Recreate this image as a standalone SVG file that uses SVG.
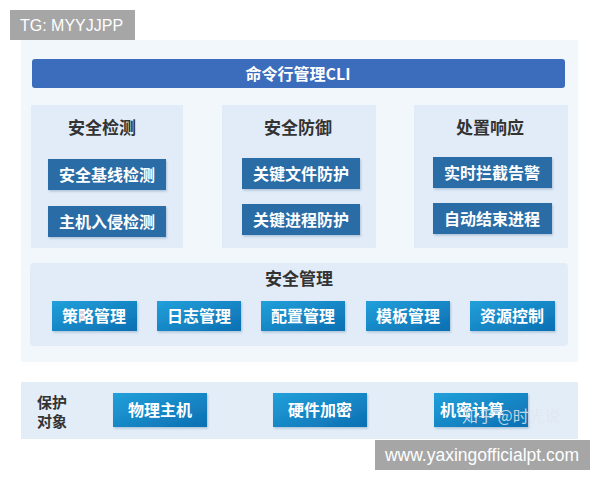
<svg xmlns="http://www.w3.org/2000/svg" width="600" height="480" viewBox="0 0 600 480">
<defs>
<linearGradient id="btn" x1="0" y1="0" x2="1" y2="1">
<stop offset="0" stop-color="#22a0da"/>
<stop offset="1" stop-color="#0c6fb2"/>
</linearGradient>
<filter id="sh" x="-10%" y="-20%" width="130%" height="150%">
<feDropShadow dx="1" dy="1.5" stdDeviation="1.2" flood-color="#6d8fb3" flood-opacity="0.45"/>
</filter>
</defs>
<style>
text{font-family:"Noto Sans CJK SC","Liberation Sans",sans-serif;}
text.lat{font-family:"Liberation Sans",Arial,sans-serif;}
.panel{fill:#e2ecf8;}
.dark{fill:#2c6ca6;filter:url(#sh);}
.btn{fill:url(#btn);filter:url(#sh);}
.wt{fill:#ffffff;font-weight:bold;font-size:16px;text-anchor:middle;}
.ttl{fill:#333333;font-weight:bold;font-size:17px;text-anchor:middle;}
</style>
<rect width="600" height="480" fill="#ffffff"/>
<rect x="21" y="40" width="557" height="322" fill="#f2f7fc"/>
<g id="cli">
<rect x="32" y="59" width="533" height="29" rx="3" fill="#3c6dbd"/>
<text x="298" y="80" class="wt" font-size="17">命令行管理CLI</text>
</g>
<g id="detect">
<rect x="31" y="105" width="152" height="143" class="panel"/>
<text x="102" y="134" class="ttl">安全检测</text>
<rect x="48" y="159" width="118" height="31" class="dark"/>
<text x="107" y="181" class="wt">安全基线检测</text>
<rect x="48" y="206" width="118" height="31" class="dark"/>
<text x="107" y="228" class="wt">主机入侵检测</text>
</g>
<g id="defense">
<rect x="222" y="105" width="154" height="143" class="panel"/>
<text x="298" y="134" class="ttl">安全防御</text>
<rect x="242" y="158" width="118" height="31" class="dark"/>
<text x="301" y="180" class="wt">关键文件防护</text>
<rect x="242" y="204" width="118" height="31" class="dark"/>
<text x="301" y="226" class="wt">关键进程防护</text>
</g>
<g id="response">
<rect x="414" y="105" width="154" height="143" class="panel"/>
<text x="490" y="134" class="ttl">处置响应</text>
<rect x="433" y="157" width="119" height="31" class="dark"/>
<text x="492" y="179" class="wt">实时拦截告警</text>
<rect x="433" y="203" width="119" height="31" class="dark"/>
<text x="492" y="225" class="wt">自动结束进程</text>
</g>
<g id="mgmt">
<rect x="30" y="263" width="538" height="83" rx="4" class="panel"/>
<text x="299" y="285" class="ttl" font-size="15">安全管理</text>
<rect x="52" y="301" width="85" height="30" class="btn"/>
<text x="94" y="322" class="wt" font-size="15">策略管理</text>
<rect x="157" y="301" width="84" height="30" class="btn"/>
<text x="199" y="322" class="wt" font-size="15">日志管理</text>
<rect x="261" y="301" width="84" height="30" class="btn"/>
<text x="303" y="322" class="wt" font-size="15">配置管理</text>
<rect x="366" y="301" width="84" height="30" class="btn"/>
<text x="408" y="322" class="wt" font-size="15">模板管理</text>
<rect x="470" y="301" width="85" height="30" class="btn"/>
<text x="512" y="322" class="wt" font-size="15">资源控制</text>
</g>
<g id="protect">
<rect x="21" y="382" width="557" height="57" fill="#e3edf8"/>
<text x="37" y="408" fill="#333333" font-size="15" font-weight="bold">保护</text>
<text x="37" y="427" fill="#333333" font-size="15" font-weight="bold">对象</text>
<rect x="113" y="393" width="94" height="34" class="btn"/>
<text x="160" y="416" class="wt" font-size="15">物理主机</text>
<rect x="273" y="393" width="94" height="34" class="btn"/>
<text x="320" y="416" class="wt" font-size="15">硬件加密</text>
<rect x="434" y="393" width="94" height="34" class="btn"/>
<text x="472" y="416" class="wt" font-size="15">机密计算</text>
<text x="462" y="422" fill="#dfe6ee" fill-opacity="0.85" font-size="16">知乎 @时光说</text>
</g>
<g id="tag">
<rect x="10" y="10" width="125" height="30" fill="#a6a6a6"/>
<text x="20" y="31" class="lat" fill="#ffffff" font-size="16">TG: MYYJJPP</text>
</g>
<g id="url">
<rect x="375" y="440" width="215" height="30" fill="#a6a6a6"/>
<text x="482" y="461" class="lat" fill="#ffffff" font-size="17.5" text-anchor="middle">www.yaxingofficialpt.com</text>
</g>
</svg>
